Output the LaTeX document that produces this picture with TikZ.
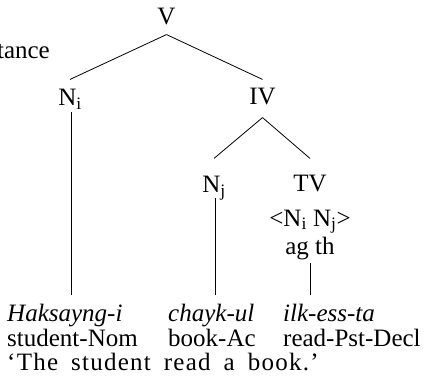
\documentclass[tikz,border=0pt]{standalone}
\usepackage{fontspec}
\setmainfont{Liberation Serif}
\usepackage{tikz}
\usetikzlibrary{positioning}
\newcommand{\treefont}{\fontsize{25}{25}\selectfont}

\begin{document}
\begin{tikzpicture}[
    x=1pt, y=-1pt,
    cat/.style={inner sep=0pt, anchor=base, font=\treefont},
    word/.style={inner sep=0pt, anchor=base west, font=\treefont},
    branch/.style={line width=0.8pt, black}
]
\useasboundingbox (0,0) rectangle (425,387);

\node[inner sep=0pt, anchor=base east, font=\treefont] (frag) at (50,59) {tance};

% tree
\node[cat] (V) at (166.5,25) {V};
\node[cat] (Ni) at (70,106) {N\textsubscript{i}};
\node[cat] (IV) at (262.5,105) {IV};
\node[cat] (Nj) at (214,193) {N\textsubscript{j}};
\node[cat] (TV) at (310,192) {TV};
\node[cat] (args) at (310,226) {<N\textsubscript{i} N\textsubscript{j}>};
\node[cat] (roles) at (310,254) {ag th};

% words and glosses
\node[word] (hak) at (7,321) {\itshape Haksayng-i};
\node[word] (chayk) at (168,321) {\itshape chayk-ul};
\node[word] (ilk) at (283,321) {\itshape ilk-ess-ta};
\node[word] (student) at (7,346) {student-Nom};
\node[word] (book) at (168,346) {book-Ac};
\node[word] (read) at (283,346) {read-Pst-Decl};
\node[word] (trans) at (7,370) {\addfontfeature{LetterSpace=5}\spaceskip=13pt `The student read a book.'};

\draw[branch] ([yshift=-9pt]V.south) -- ([yshift=10pt]Ni.north);
\draw[branch] ([yshift=-9pt]V.south) -- ([yshift=9pt]IV.north);
\draw[branch] ([yshift=-12pt]IV.south) -- ([yshift=18pt]Nj.north);
\draw[branch] ([yshift=-12pt]IV.south) -- ([yshift=17pt]TV.north);
\draw[branch] ([xshift=1pt,yshift=-6pt]Ni.base) -- ([xshift=1pt,yshift=26pt]Ni |- hak.base);
\draw[branch] ([xshift=1pt,yshift=-5pt]Nj.base) -- ([xshift=1pt,yshift=26pt]Nj |- chayk.base);
\draw[branch] ([yshift=-9pt]roles.base) -- ([yshift=26pt]roles |- ilk.base);
\end{tikzpicture}
\end{document}
